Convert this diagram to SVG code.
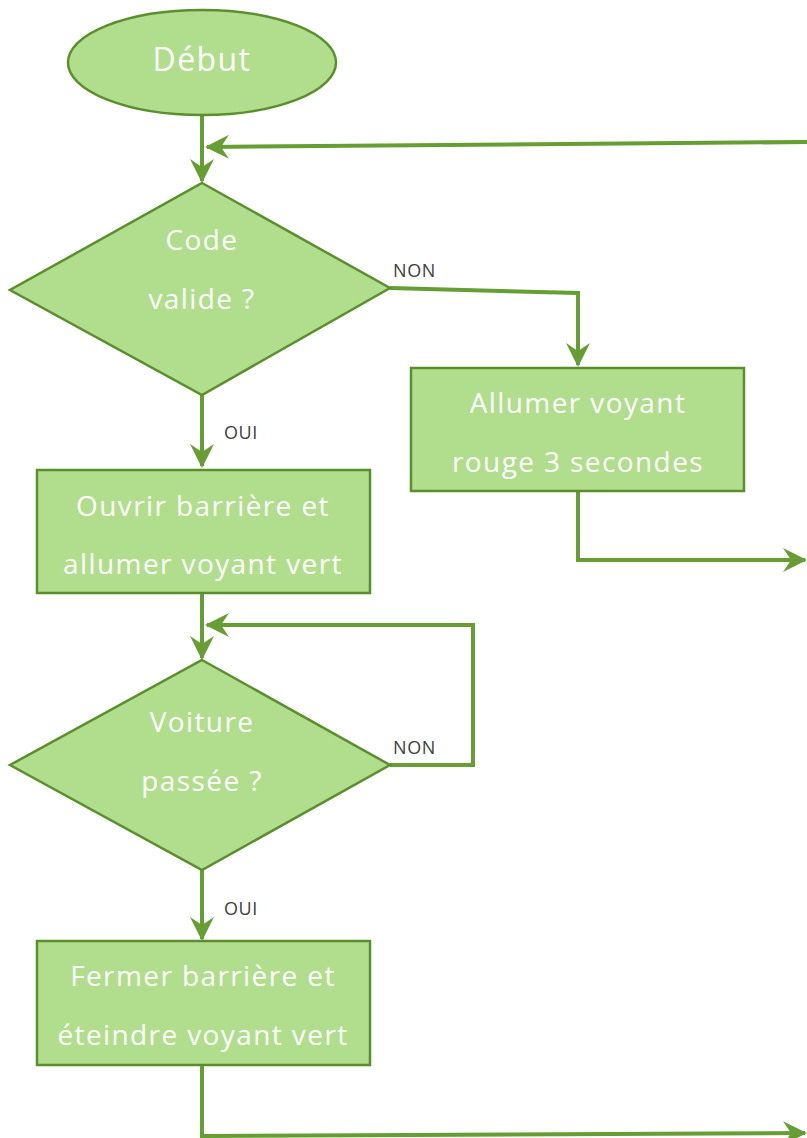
<svg xmlns="http://www.w3.org/2000/svg" width="807" height="1138" viewBox="0 0 807 1138">
<defs>
<style>
.n{fill:#b1de8c;stroke:#5b8e2d;stroke-width:2.5}
.t{fill:#ffffff;font-family:"Open Sans",Lato,sans-serif;font-size:28px;letter-spacing:1.4px;text-anchor:middle}
.l{fill:#404040;font-family:"Open Sans",Lato,sans-serif;font-size:18px;letter-spacing:0.6px}
.c{fill:none;stroke:#669e33;stroke-width:4;marker-end:url(#a)}
</style>
<marker id="a" viewBox="0 0 12 12" refX="11" refY="6" markerWidth="6" markerHeight="6" orient="auto" markerUnits="strokeWidth">
<path d="M0,0 L12,6 L0,12 L4,6 z" fill="#669e33"/>
</marker>
</defs>
<g id="connectors">
<path class="c" d="M202,115 L202,181"/>
<path class="c" d="M807,142 L207,147"/>
<path class="c" d="M390,288 L578,293 L578,365"/>
<path class="c" d="M578,491 L578,560 L805,560"/>
<path class="c" d="M202,395 L202,466"/>
<path class="c" d="M202,593 L202,658"/>
<path class="c" d="M390,765 L473,765 L473,625 L207,625"/>
<path class="c" d="M202,870 L202,939"/>
<path class="c" d="M202,1065 L202,1136 L805,1133"/>
<text class="l" x="393" y="277">NON</text>
<text class="l" x="224" y="439">OUI</text>
<text class="l" x="393" y="754">NON</text>
<text class="l" x="224" y="915">OUI</text>
</g>
<g id="debut">
<ellipse class="n" cx="202" cy="62.5" rx="134" ry="52.5"/>
<text class="t" x="202" y="71" style="font-size:32px">Début</text>
</g>
<g id="code-valide">
<polygon class="n" points="202,183 390,288 202,395 10,290"/>
<text class="t" x="202" y="250">Code</text>
<text class="t" x="202" y="309">valide ?</text>
</g>
<g id="allumer-rouge">
<rect class="n" x="411" y="368" width="333" height="123"/>
<text class="t" x="578" y="413">Allumer voyant</text>
<text class="t" x="578" y="472">rouge 3 secondes</text>
</g>
<g id="ouvrir">
<rect class="n" x="37" y="470" width="333" height="123"/>
<text class="t" x="203" y="516">Ouvrir barrière et</text>
<text class="t" x="203" y="574">allumer voyant vert</text>
</g>
<g id="voiture-passee">
<polygon class="n" points="202,660 390,765 202,870 10,765"/>
<text class="t" x="202" y="732">Voiture</text>
<text class="t" x="202" y="791">passée ?</text>
</g>
<g id="fermer">
<rect class="n" x="37" y="941" width="333" height="124"/>
<text class="t" x="203" y="986">Fermer barrière et</text>
<text class="t" x="203" y="1045">éteindre voyant vert</text>
</g>
</svg>
